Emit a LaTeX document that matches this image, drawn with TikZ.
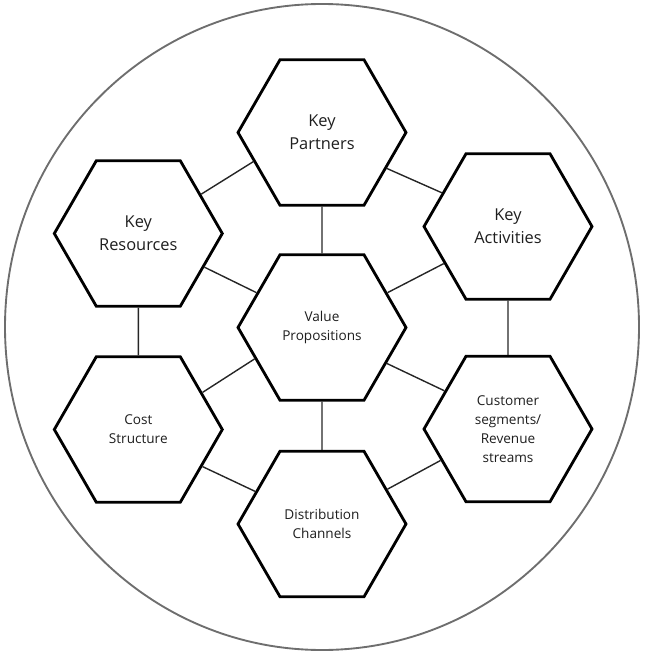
\documentclass[tikz,border=0pt]{standalone}
\usepackage{fontspec}
\setmainfont{Open Sans}
\usetikzlibrary{shapes.geometric}
\definecolor{ringGray}{HTML}{6E6E6E}
\definecolor{inkText}{HTML}{1E1E1E}

\begin{document}
\begin{tikzpicture}[x=0.3mm,y=-0.3mm,
    hexa/.style={regular polygon,regular polygon sides=6,draw=black,line width=2.4pt,
      minimum size=50.4mm,inner sep=0pt,align=center,text=inkText},
    bigtxt/.style={font=\fontsize{14}{20}\selectfont},
    smalltxt/.style={font=\fontsize{11.6}{16.2}\selectfont},
    link/.style={draw=black!85,line width=1.2pt}]
  \useasboundingbox (0,0) rectangle (645,657);
  \draw[ringGray,line width=1.6pt] (322,327) ellipse [x radius=95.1mm,y radius=96.9mm];

  % the seven blocks
  \node[hexa,bigtxt] (kp) at (322,132.5) {Key\\Partners};
  \node[hexa,bigtxt] (kr) at (138.3,233.5) {Key\\Resources};
  \node[hexa,bigtxt] (ka) at (508,226.5) {Key\\Activities};
  \node[hexa,smalltxt] (vp) at (322,327.5) {Value\\Propositions};
  \node[hexa,smalltxt] (cs) at (138.3,429.5) {Cost\\Structure};
  \node[hexa,smalltxt] (cu) at (508,429) {Customer\\segments/\\Revenue\\streams};
  \node[hexa,smalltxt] (dc) at (322,524) {Distribution\\Channels};

  % links between blocks
  \draw[link] (kp.south) -- (vp.north);
  \draw[link] (vp.south) -- (dc.north);
  \draw[link] (kr.south) -- (cs.north);
  \draw[link] (ka.south) -- (cu.north);
  \draw[link] (kp.203) -- (kr.32);
  \draw[link] (kp.331) -- (ka.153);
  \draw[link] (kr.333) -- (vp.152);
  \draw[link] (ka.210) -- (vp.28);
  \draw[link] (vp.205) -- (cs.30);
  \draw[link] (vp.331) -- (cu.149);
  \draw[link] (cs.330) -- (dc.154);
  \draw[link] (cu.205) -- (dc.28);
\end{tikzpicture}
\end{document}
